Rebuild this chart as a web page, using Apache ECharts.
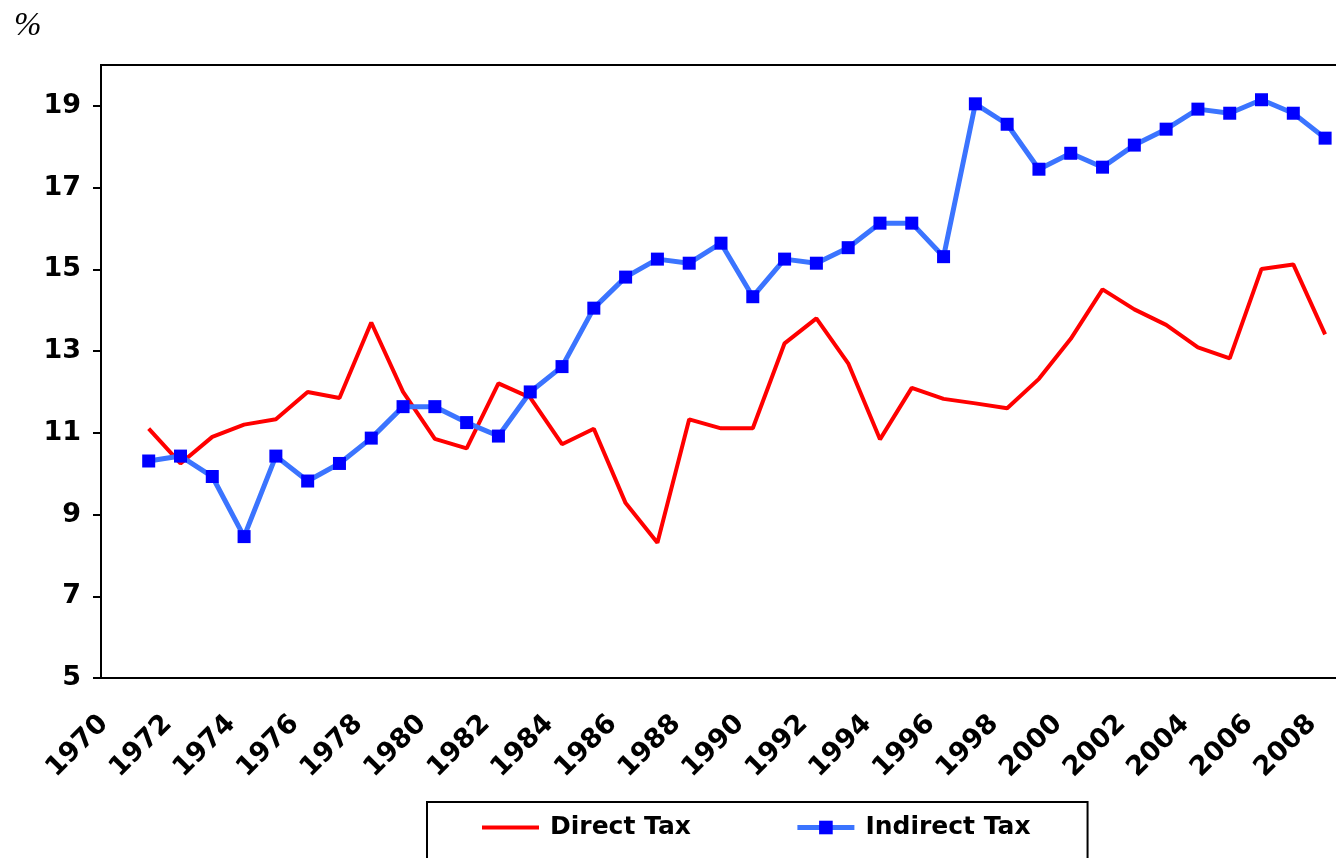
<!DOCTYPE html>
<html>
<head>
<meta charset="utf-8">
<script src="https://cdn.jsdelivr.net/npm/echarts@6/dist/echarts.min.js"></script>
<style>
html,body{margin:0;padding:0;background:#fff;}
#chart{width:1336px;height:858px;}
</style>
</head>
<body>
<div id="chart"></div>
<script>
const years = ['1970','1971','1972','1973','1974','1975','1976','1977','1978','1979','1980','1981','1982','1983','1984','1985','1986','1987','1988','1989','1990','1991','1992','1993','1994','1995','1996','1997','1998','1999','2000','2001','2002','2003','2004','2005','2006','2007','2008'];
const directTax = [null, 11.1, 10.25, 10.9, 11.2, 11.33, 12.0, 11.85, 13.7, 12.0, 10.85, 10.62, 12.21, 11.86, 10.72, 11.1, 9.28, 8.31, 11.33, 11.11, 11.11, 13.19, 13.8, 12.7, 10.84, 12.1, 11.83, 11.72, 11.6, 12.32, 13.3, 14.51, 14.02, 13.64, 13.09, 12.82, 15.01, 15.12, 13.41];
const indirectTax = [null, 10.31, 10.43, 9.93, 8.46, 10.43, 9.82, 10.25, 10.87, 11.64, 11.64, 11.25, 10.92, 12.0, 12.62, 14.05, 14.81, 15.25, 15.15, 15.64, 14.33, 15.25, 15.15, 15.53, 16.13, 16.13, 15.31, 19.05, 18.55, 17.45, 17.84, 17.5, 18.04, 18.43, 18.92, 18.82, 19.15, 18.82, 18.21];
const yTicks = [5, 7, 9, 11, 13, 15, 17, 19];
const seriesNames = ['Direct Tax', 'Indirect Tax'];
const unitLabel = '%';

const chart = echarts.init(document.getElementById('chart'), null, {renderer: 'canvas'});
const FONT = 'DejaVu Sans';
chart.setOption({
  animation: false,
  backgroundColor: '#fff',
  graphic: [{
    type: 'text', left: 14, top: 10,
    style: {text: unitLabel, fontFamily: 'Liberation Serif', fontStyle: 'italic', fontSize: 33, fill: '#000'}
  }],
  grid: {
    left: 101, top: 65, width: 1240, height: 613,
    outerBoundsMode: 'none', containLabel: false,
    show: true, borderColor: '#000', borderWidth: 2, backgroundColor: 'transparent'
  },
  legend: {
    left: 427, top: 802,
    data: [
      {name: seriesNames[0], itemStyle: {opacity: 0}, lineStyle: {width: 4, color: '#FF0000'}},
      {name: seriesNames[1], lineStyle: {width: 5, color: '#3B74FF'}}
    ],
    itemWidth: 57, itemHeight: 17, itemGap: 104,
    padding: [13, 57, 24, 53],
    borderColor: '#000', borderWidth: 2,
    textStyle: {fontFamily: FONT, fontWeight: 'bold', fontSize: 25, color: '#000', padding: [0, 0, 0, 6]}
  },
  xAxis: {
    type: 'category',
    data: years,
    boundaryGap: true,
    axisLine: {lineStyle: {color: '#000', width: 2}},
    axisTick: {show: false},
    splitLine: {show: false},
    axisLabel: {
      interval: 1, rotate: 45, margin: 29,
      padding: [0, 18, 0, 0],
      fontFamily: FONT, fontWeight: 'bold', fontSize: 27, color: '#000'
    }
  },
  yAxis: {
    type: 'value',
    min: 5, max: 20, interval: 2,
    axisLine: {show: true, lineStyle: {color: '#000', width: 2}},
    axisTick: {show: true, length: 8, lineStyle: {color: '#000', width: 2}, customValues: yTicks},
    splitLine: {show: false},
    axisLabel: {
      customValues: yTicks, margin: 20,
      fontFamily: FONT, fontWeight: 'bold', fontSize: 27, color: '#000'
    }
  },
  series: [
    {
      name: seriesNames[0], type: 'line', data: directTax,
      symbol: 'none', showSymbol: false,
      itemStyle: {color: '#FF0000'},
      lineStyle: {color: '#FF0000', width: 4}
    },
    {
      name: seriesNames[1], type: 'line', data: indirectTax,
      symbol: 'rect', symbolSize: 13,
      itemStyle: {color: '#0000FF'},
      lineStyle: {color: '#3B74FF', width: 5}
    }
  ]
});
</script>
</body>
</html>
